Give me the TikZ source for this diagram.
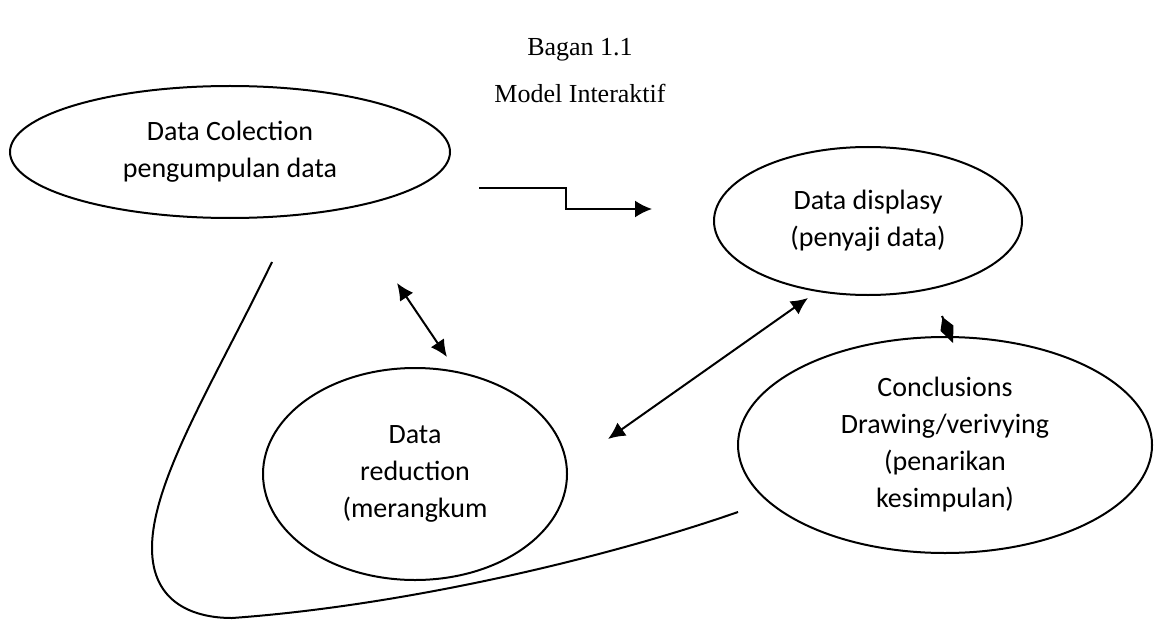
\documentclass[tikz,border=0pt]{standalone}
\usepackage{fontspec}
\setmainfont{Liberation Serif}
\newfontfamily\calibri{Carlito}
\usetikzlibrary{positioning, shapes.geometric, arrows.meta}

\begin{document}
\begin{tikzpicture}[
    x=0.5pt, y=-0.5pt,
    ovalnode/.style={ellipse, draw=black, line width=1pt, inner sep=0pt, align=center,
        font=\calibri\fontsize{14}{18.5}\selectfont},
    titlenode/.style={font=\fontsize{13}{16}\selectfont},
    link/.style={line width=1pt},
    ]
    \useasboundingbox (0,0) rectangle (1159,620);
    %Title
    \node[titlenode] (bagan) at (580,50) {Bagan 1.1};
    \node[titlenode] (model) at (580,93) {Model Interaktif};
    %Nodes
    \node[ovalnode, minimum width=220pt, minimum height=66pt] (collect) at (230,152) {Data Colection\\pengumpulan data};
    \node[ovalnode, minimum width=154pt, minimum height=74pt] (display) at (868,221) {Data displasy\\(penyaji data)};
    \node[ovalnode, minimum width=152pt, minimum height=106pt] (reduce) at (415,474) {Data\\reduction\\(merangkum};
    \node[ovalnode, minimum width=207pt, minimum height=108pt] (conclude) at (945,445) {Conclusions\\Drawing/verivying\\(penarikan\\kesimpulan)};
    %Free ends
    \coordinate (loopstart) at (272,262);
    \coordinate (stepin) at (479,188);
    \coordinate (stepout) at (652,209);
    \coordinate (redtop) at (397,283);
    \coordinate (redbot) at (447,357);
    \coordinate (midlow) at (608,439);
    \coordinate (midhigh) at (808,298);
    \coordinate (kitetop) at (942,316);
    \coordinate (kitebot) at (953,343);
    \coordinate (loopend) at (738,512);

    \draw[link] (loopstart) .. controls (215,380) and (152,480) .. (152,548)
        .. controls (152,604) and (195,618) .. (232,618)
        .. controls (400,606) and (600,560) .. (loopend);
    \draw[link, -{Latex[length=8.5pt, width=8.5pt]}] (stepin) -- (566,188) -- (566,209) -- (stepout);
    \draw[link, {Latex[length=8.5pt, width=8pt]}-{Latex[length=8.5pt, width=8pt]}] (redtop) -- (redbot);
    \draw[link, {Latex[length=8.5pt, width=8pt]}-{Latex[length=8.5pt, width=8pt]}] (midlow) -- (midhigh);
    \draw[link, -{Kite[length=14pt, width=7pt, inset=6pt]}] (kitetop) -- (kitebot);
\end{tikzpicture}
\end{document}
